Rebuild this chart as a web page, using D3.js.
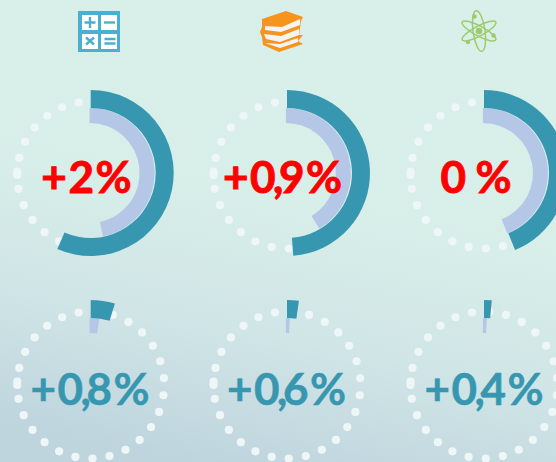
<!DOCTYPE html>
<html><head><meta charset="utf-8">
<style>html,body{margin:0;padding:0;overflow:hidden;background:#d8efe9}svg{display:block}</style>
<script src="https://cdn.jsdelivr.net/npm/d3@7"></script></head>
<body><svg id="c" width="556" height="462"></svg>
<script>
const labelsTop = ["+2%", "+0,9%", "0 %"];
const outerTop = [56.6, 48.8, 43.9];
const innerTop = [46.7, 41.4, 43.9];
const labelsBottom = ["+0,8%", "+0,6%", "+0,4%"];
const outerBottom = [4.7, 2.3, 1.5];
const innerBottom = [2.4, 1.0, 1.0];
const centersX = [90.7, 287, 484];
const textX = [[86.5, 282.5, 476], [90, 286.5, 484]];

const svg = d3.select("#c");
const defs = svg.append("defs");
const g = defs.append("linearGradient").attr("id", "bg")
  .attr("x1", 0.62).attr("y1", 0).attr("x2", 0.38).attr("y2", 1);
[[0, "#d9f0ea"], [0.45, "#d7eee9"], [0.72, "#d0e5e6"], [1, "#bfd5de"]]
  .forEach(s => g.append("stop").attr("offset", s[0]).attr("stop-color", s[1]));
svg.append("rect").attr("width", 556).attr("height", 462).attr("fill", "url(#bg)");

const angle = d3.scaleLinear().domain([0, 100]).range([0, 2 * Math.PI]);
const outerArc = d3.arc().innerRadius(65).outerRadius(83).startAngle(0);
const innerArc = d3.arc().innerRadius(50).outerRadius(65).startAngle(0);
const dots = d3.range(28);
const dotAngle = d3.scaleLinear().domain([0, 1]).range([1.5 * Math.PI, 1.5 * Math.PI + 13.43 * Math.PI / 180]);

const rows = [
  {y: 173, dotY: 175, labels: labelsTop, outer: outerTop, inner: innerTop, color: "#ff0000", base: 193, sw: 0.9},
  {y: 383, dotY: 385, labels: labelsBottom, outer: outerBottom, inner: innerBottom, color: "#3797b0", base: 405, sw: 0.5}
];
rows.forEach((r, ri) => {
  centersX.forEach((cx, i) => {
    const gg = svg.append("g");
    gg.append("g").selectAll("circle").data(dots).join("circle")
      .attr("cx", d => cx + 73.5 * Math.sin(dotAngle(d)))
      .attr("cy", d => r.dotY - 73.5 * Math.cos(dotAngle(d)))
      .attr("r", 4.1).attr("fill", "#eff6f7");
    gg.append("path").attr("transform", `translate(${cx - 1.1},${r.y})`)
      .attr("d", innerArc({endAngle: angle(r.inner[i])})).attr("fill", "#b5c7e6");
    gg.append("path").attr("transform", `translate(${cx},${r.y})`)
      .attr("d", outerArc({endAngle: angle(r.outer[i])})).attr("fill", "#3797b0");
    // tight comma, slightly open spacing elsewhere
    const chars = Array.from(r.labels[i]);
    const dxList = chars.map((ch, k) => k === 0 ? 0 : ch === "," ? -2.5 : chars[k - 1] === "," ? -4.5 : ch === " " ? -3 : 1.6);
    gg.append("text").attr("x", textX[ri][i]).attr("y", r.base)
      .attr("dx", dxList.join(" ")).attr("xml:space", "preserve")
      .attr("text-anchor", "middle").attr("font-family", "Lato, sans-serif")
      .attr("font-weight", 700).attr("font-size", 44)
      .attr("fill", r.color).attr("stroke", r.color).attr("stroke-width", r.sw)
      .text(r.labels[i]);
  });
});

// Calculator icon
const calc = svg.append("g");
calc.append("rect").attr("x", 78).attr("y", 11).attr("width", 42).attr("height", 41).attr("fill", "#4bafcf");
[[82, 15], [101, 15], [82, 34], [101, 34]].forEach(p =>
  calc.append("rect").attr("x", p[0]).attr("y", p[1]).attr("width", 16).attr("height", 15).attr("fill", "#fff"));
const sym = (d) => calc.append("path").attr("d", d).attr("stroke", "#4bafcf").attr("stroke-width", 2.4).attr("fill", "none");
sym("M84.5 22.5H95.5M90 17V28");
sym("M104 22.5H115");
sym("M86 37.5L94 44.5M94 37.5L86 44.5");
sym("M104.5 39H115.5M104.5 43.5H115.5");

// Books icon
const books = svg.append("g");
const orange = "#f7941e";
books.append("path").attr("fill", orange)
  .attr("d", "M262 19 L286 11 L303 17 L301 21 L299 35 L303 35 L298 41 L303 44 L279 52 L263 45 L262 37 L260 32 L262 27Z");
const page = (d) => books.append("path").attr("fill", "#f4f3f5").attr("d", d);
page("M265 26 L265 30 L281 32 L300 25 L300 19 L282 27Z");
page("M264 34 L266 39 L280 42 L299 35 L299 29 L281 36Z");
page("M265 43 L280 48 L298 42 L298 38 L280 44Z");

// Atom icon
const atom = svg.append("g").attr("transform", "translate(479,31)").attr("stroke", "#9ccb6b").attr("fill", "none").attr("stroke-width", 1.5);
[[-8, 6, 20.5], [62, 5, 19], [-62, 5, 19]].forEach(e =>
  atom.append("ellipse").attr("rx", e[1]).attr("ry", e[2]).attr("transform", `rotate(${e[0]})`));
[[0, 0, 3.3], [-4.5, -14.5, 2.2], [14.5, 4.5, 2.2], [-11, 11, 2.2]].forEach(c =>
  atom.append("circle").attr("cx", c[0]).attr("cy", c[1]).attr("r", c[2]).attr("fill", "#9ccb6b").attr("stroke", "none"));
</script></body></html>
